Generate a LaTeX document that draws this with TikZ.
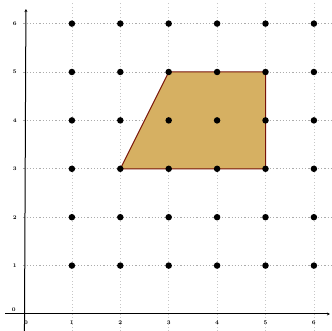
\documentclass[tikz,border=0pt]{standalone}
\usetikzlibrary{arrows.meta}
\definecolor{tanfill}{RGB}{214,176,98}
\definecolor{edgered}{RGB}{120,20,10}
\begin{document}
\begin{tikzpicture}[x=48.4pt,y=48.4pt,
  hgrid/.style={gray!65,dash pattern=on 1.2pt off 2pt,line width=0.6pt},
  vgrid/.style={gray!45,dash pattern=on 0.8pt off 2.5pt,line width=0.6pt},
  axisline/.style={black,line width=1pt,-{Stealth[length=3pt,width=3pt]}},
  dotnode/.style={circle,fill=black,inner sep=0pt,minimum size=6.5pt},
  ticklab/.style={font=\fontsize{5.5}{5.5}\selectfont\bfseries,inner sep=0pt},
  trapfill/.style={fill=tanfill,draw=edgered,line width=1pt,line join=round}]
\useasboundingbox (-0.4855,-0.3512) rectangle (6.374,6.4876);
% grid
\foreach \i in {1,...,6} {
  \draw[vgrid] (\i,-0.35) -- (\i,6.45);
  \draw[hgrid] (0,\i) -- (6.37,\i);
}
% polygon
\coordinate (A) at (2,3);
\coordinate (B) at (3,5);
\coordinate (C) at (5,5);
\coordinate (D) at (5,3);
\filldraw[trapfill] (A) -- (B) -- (C) -- (D) -- cycle;
% axes
\coordinate (xs) at (-0.38,0);
\coordinate (xe) at (6.33,0);
\coordinate (ys) at (0.02,-0.36);
\coordinate (ye) at (0.05,6.30);
\draw[axisline] (xs) -- (xe);
\draw[axisline] (ys) -- (ye);
% labels
\node[ticklab] (x0) at (0.05,-0.18) {0};
\node[ticklab] (y0) at (-0.2,0.08) {0};
\foreach \i in {1,...,6} {
  \node[ticklab] (x\i) at (\i,-0.18) {\i};
  \node[ticklab] (y\i) at (-0.18,\i) {\i};
}
% dots
\foreach \i in {1,...,6} {
  \foreach \j in {1,...,6} {
    \node[dotnode] (p\i\j) at (\i,\j) {};
  }
}
\end{tikzpicture}
\end{document}
